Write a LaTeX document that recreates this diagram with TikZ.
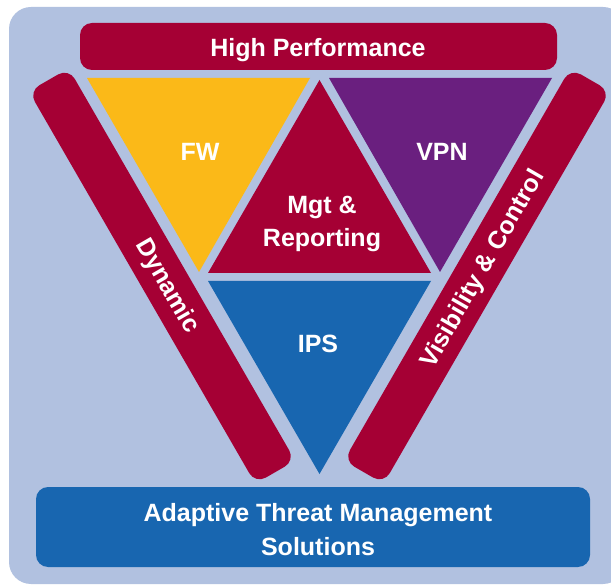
\documentclass[tikz,border=0pt]{standalone}
\usepackage{fontspec}
\setmainfont{Liberation Sans}

\definecolor{atmbg}{RGB}{177,193,224}
\definecolor{atmred}{RGB}{165,0,52}
\definecolor{atmyellow}{RGB}{251,185,24}
\definecolor{atmpurple}{RGB}{106,31,127}
\definecolor{atmblue}{RGB}{24,102,176}

\tikzset{
  lbl/.style={text=white,font=\fontsize{25}{33.5}\selectfont\bfseries,align=center,inner sep=0pt,anchor=base},
  sidelbl/.style={text=white,font=\fontsize{25}{30}\selectfont\bfseries,inner sep=0pt,text height=18pt,text depth=0pt},
  bar/.style={fill=atmred,rounded corners=12pt,inner sep=0pt,minimum width=453pt,minimum height=46pt},
}

\begin{document}
\begin{tikzpicture}[x=1pt,y=-1pt]
   \useasboundingbox (0,0) rectangle (611,585);
   \fill[white] (0,0) rectangle (611,585);
   \fill[atmbg,rounded corners=22pt] (9,7) rectangle (625,584);
   % top and bottom boxes
   \fill[atmred,rounded corners=12pt] (80,23) rectangle (557,70);
   \fill[atmblue,rounded corners=12pt] (36,487) rectangle (590,567);
   % side bars
   \node[bar,rotate=-60] (dynbar) at (162,276) {};
   \node[bar,rotate=60] (visbar) at (477,276) {};
   % the four triangles
   \fill[atmyellow] (87,78) -- (310,78) -- (199,272) -- cycle;
   \fill[atmpurple] (329,78) -- (552,78) -- (440,272) -- cycle;
   \fill[atmred] (319.5,80) -- (431,273) -- (208,273) -- cycle;
   \fill[atmblue] (208,281) -- (431,281) -- (319.5,474) -- cycle;
   % labels (base = last line)
   \node[lbl] (perf) at (318,57) {High Performance};
   \node[lbl] (fw) at (200,161) {FW};
   \node[lbl] (vpn) at (442,161) {VPN};
   \node[lbl] (mgt) at (322,247) {Mgt \&\\Reporting};
   \node[lbl] (ips) at (318,353) {IPS};
   \node[lbl] (atm) at (318,555) {Adaptive Threat Management\\Solutions};
   \node[sidelbl,rotate=-60] (dyn) at (169,285) {Dynamic};
   \node[sidelbl,rotate=60] (vis) at (481,268) {Visibility \& Control};
\end{tikzpicture}
\end{document}
